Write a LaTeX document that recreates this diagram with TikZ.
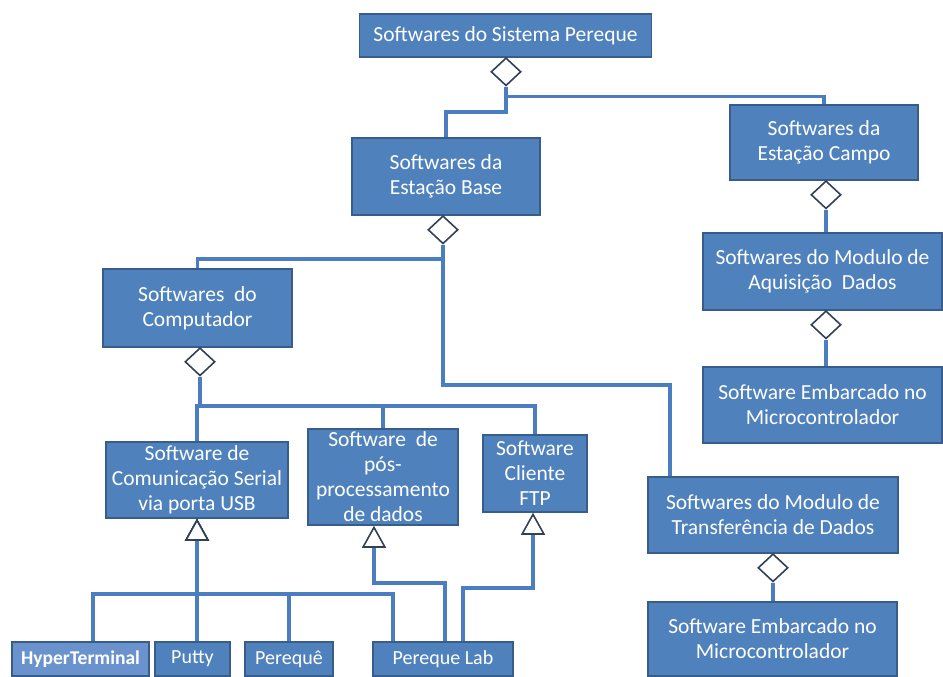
\documentclass[tikz,border=0pt]{standalone}
\usepackage{fontspec}
\setmainfont{Carlito}
\usetikzlibrary{shapes.geometric,arrows.meta,calc}
\definecolor{boxfill}{RGB}{79,129,189}
\definecolor{boxline}{RGB}{56,93,138}
\definecolor{lightfill}{RGB}{106,146,204}
\definecolor{linec}{RGB}{74,126,192}
\definecolor{darkc}{RGB}{50,65,85}
\begin{document}
\begin{tikzpicture}[x=1pt,y=-1pt,
  box/.style={draw=boxline, fill=boxfill, line width=1.5pt, text=white, align=center,
    inner sep=0pt, font=\fontsize{21.5}{25}\selectfont},
  smallbox/.style={box, font=\fontsize{20}{24}\selectfont},
  dia/.style={diamond, draw=darkc, fill=white, line width=1.6pt, minimum width=30pt,
    minimum height=28pt, inner sep=0pt, anchor=north},
  conn/.style={draw=linec, line width=3.8pt},
  gen/.style={-{Triangle[color=darkc, fill=white, length=22pt, width=24pt, line width=1.6pt]}}]
\useasboundingbox (0,0) rectangle (943,677);

% boxes
\node[box, minimum width=292pt, minimum height=43pt] (top) at (505.5,35.5) {Softwares do Sistema Pereque};
\node[box, minimum width=188pt, minimum height=77pt] (base) at (446,176.5) {Softwares da\\Estação Base};
\node[box, minimum width=188pt, minimum height=75pt] (campo) at (824,142.5) {Softwares da\\Estação Campo};
\node[box, minimum width=239pt, minimum height=77pt] (aquis) at (822.5,271.5) {Softwares do Modulo de\\Aquisição\ \ Dados};
\node[box, minimum width=239pt, minimum height=76pt] (microa) at (822.5,405) {Software Embarcado no\\Microcontrolador};
\node[box, minimum width=189pt, minimum height=78pt] (comp) at (197.5,308) {Softwares\ \ do\\Computador};
\node[box, minimum width=182pt, minimum height=76pt] (serial) at (197,480) {Software de\\Comunicação Serial\\via porta USB};
\node[box, minimum width=150pt, minimum height=96pt] (pos) at (383,477) {Software\ \ de\\pós-\\processamento\\de dados};
\node[box, minimum width=104pt, minimum height=77pt] (ftp) at (535,473.5) {Software\\Cliente\\FTP};
\node[box, minimum width=250pt, minimum height=76pt] (transfer) at (773,515) {Softwares do Modulo de\\Transferência de Dados};
\node[box, minimum width=249pt, minimum height=74pt] (microb) at (772.5,639) {Software Embarcado no\\Microcontrolador};
\node[smallbox, fill=lightfill, font=\fontsize{19.5}{24}\selectfont\bfseries, minimum width=137pt, minimum height=34pt] (hyper) at (80.5,659) {HyperTerminal};
\node[smallbox, minimum width=75pt, minimum height=34pt] (putty) at (192.5,659) {Putty};
\node[smallbox, minimum width=88pt, minimum height=34pt] (pereque) at (289,659) {Perequê};
\node[smallbox, minimum width=140pt, minimum height=34pt] (lab) at (443,659) {Pereque Lab};

% diamonds
\node[dia] (d1) at (506,57) {};
\node[dia] (d2) at (443,215) {};
\node[dia] (d3) at (826,180) {};
\node[dia] (d4) at (826,310) {};
\node[dia] (d5) at (200,347) {};
\node[dia] (d6) at (773,553) {};

% aggregation connectors
\draw[conn] (d1.south) -- ++(0,25) -| (base.north);
\draw[conn] (d1.south) -- ++(0,10) -| (campo.north);
\draw[conn] (d2.south) -- ++(0,14) -| (comp.north);
\draw[conn] (d2.south) -- ++(0,140) -| ([xshift=-103pt]transfer.north);
\draw[conn] (d3.south) -- (d3.south |- aquis.north);
\draw[conn] (d4.south) -- (d4.south |- microa.north);
\draw[conn] (d5.south) -- ++(0,29) -| (serial.north);
\draw[conn] (d5.south) -- ++(0,29) -| (pos.north);
\draw[conn] (d5.south) -- ++(0,29) -| (ftp.north);
\draw[conn] (d6.south) -- (d6.south |- microb.north);

% generalisation connectors
\draw[conn, gen] ([xshift=12.5pt]hyper.north) |- ([yshift=-75pt]serial.south) -- (serial.south);
\draw[conn, gen] ([xshift=4.5pt]putty.north) -- (serial.south);
\draw[conn, gen] (pereque.north) |- ([yshift=-75pt]serial.south) -- (serial.south);
\draw[conn, gen] ([xshift=-50pt]lab.north) |- ([yshift=-75pt]serial.south) -- (serial.south);
\draw[conn, gen] ([xshift=2pt]lab.north) |- ([xshift=-9pt,yshift=-57pt]pos.south) -- ([xshift=-9pt]pos.south);
\draw[conn, gen] ([xshift=20pt]lab.north) |- ([xshift=-2pt,yshift=-75pt]ftp.south) -- ([xshift=-2pt]ftp.south);
\end{tikzpicture}
\end{document}
